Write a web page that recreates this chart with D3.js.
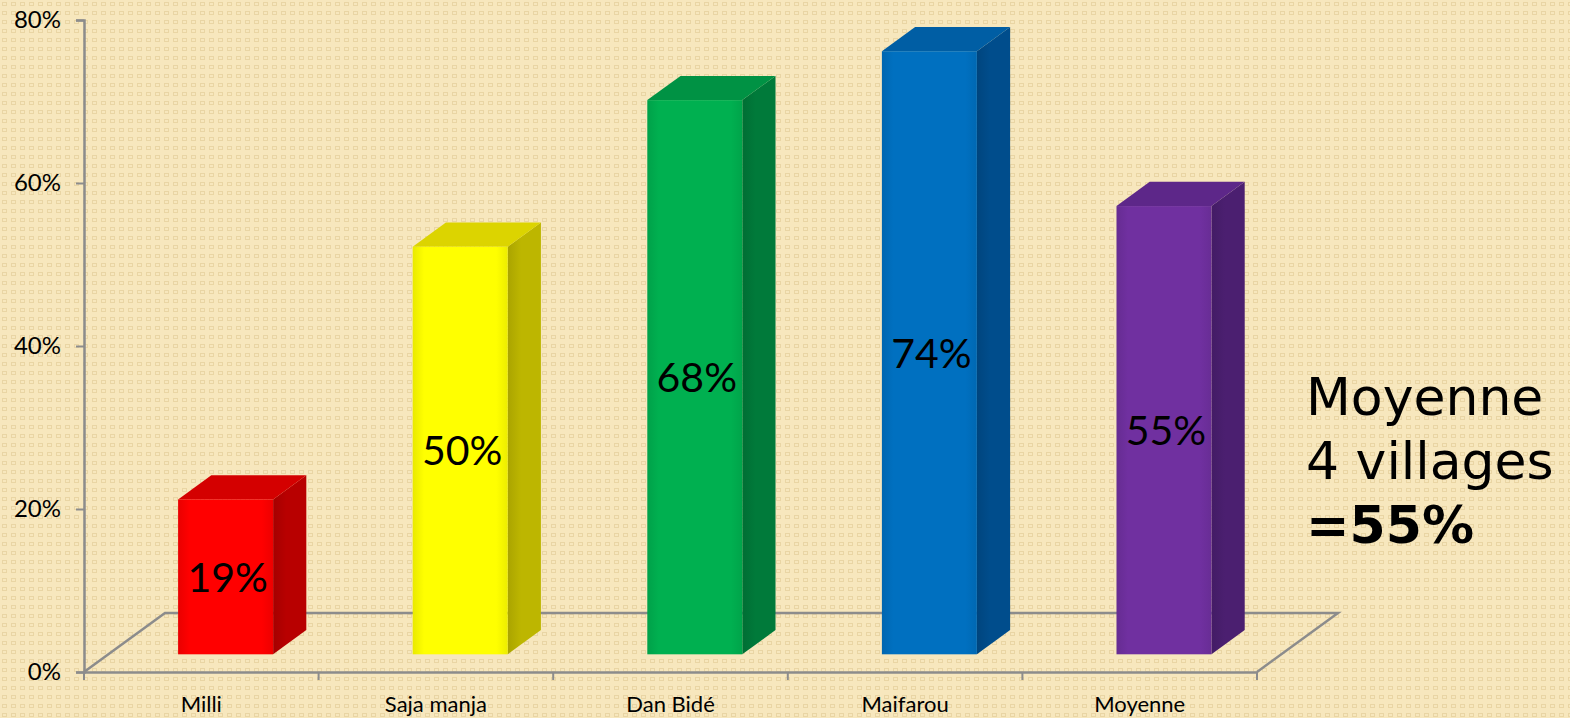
<!DOCTYPE html>
<html>
<head>
<meta charset="utf-8">
<script src="https://cdn.jsdelivr.net/npm/d3@7"></script>
<style>
  html, body { margin: 0; padding: 0; background: #f6e5ba; }
  svg { display: block; }
</style>
</head>
<body>
<div id="chart"></div>
<script>
// data
const categories = ["Milli", "Saja manja", "Dan Bidé", "Maifarou", "Moyenne"]
const values = [0.19, 0.50, 0.68, 0.74, 0.55]
const valueLabels = ["19%", "50%", "68%", "74%", "55%"]
const yTicks = [0, 0.2, 0.4, 0.6, 0.8]
const frontColors = ["#ff0000", "#ffff00", "#00b050", "#0070c0", "#7030a0"]
const sideColors = ["#b80000", "#bdb600", "#007a3a", "#004d8c", "#4b1f70"]
const topColors = ["#d40000", "#dcd400", "#009244", "#005ea4", "#5d2789"]
const noteLines = ["Moyenne", "4 villages"]
const noteBold = "=55%"

const width = 1570, height = 718
const svg = d3.select("#chart").append("svg")
              .attr("width", width)
              .attr("height", height)

// background pattern
const defs = svg.append("defs")
const pat = defs.append("pattern")
                .attr("id", "bg")
                .attr("width", 9)
                .attr("height", 9)
                .attr("patternUnits", "userSpaceOnUse")
pat.append("rect").attr("width", 9).attr("height", 9).attr("fill", "#f7e7bd")
pat.append("rect").attr("x", 2.5).attr("y", 2.5).attr("width", 4).attr("height", 3)
   .attr("fill", "none").attr("stroke", "#e9d5a4").attr("stroke-width", 1)
svg.append("rect").attr("width", width).attr("height", height).attr("fill", "url(#bg)")

// gradients for faces
frontColors.forEach((c, i) => {
    const g = defs.append("linearGradient").attr("id", "front" + i)
                  .attr("x1", 0).attr("x2", 1).attr("y1", 0).attr("y2", 0)
    g.append("stop").attr("offset", "0%").attr("stop-color", d3.color(c).darker(0.25))
    g.append("stop").attr("offset", "12%").attr("stop-color", c)
    g.append("stop").attr("offset", "88%").attr("stop-color", c)
    g.append("stop").attr("offset", "100%").attr("stop-color", d3.color(c).darker(0.2))
    const s = defs.append("linearGradient").attr("id", "side" + i)
                  .attr("x1", 0).attr("x2", 1).attr("y1", 0).attr("y2", 0)
    s.append("stop").attr("offset", "0%").attr("stop-color", d3.color(sideColors[i]).darker(0.3))
    s.append("stop").attr("offset", "40%").attr("stop-color", sideColors[i])
    s.append("stop").attr("offset", "100%").attr("stop-color", sideColors[i])
})

// scales
const x0 = 84, x1 = 1257
const yBase = 672
const depth = {dx: 81, dy: -59}
const xScale = d3.scaleBand()
                 .domain(categories)
                 .range([x0, x1])
                 .padding(0)
const yScale = d3.scaleLinear()
                 .domain([0, 0.8])
                 .range([yBase, 20])
const barWidth = xScale.bandwidth() * 0.405
const f0 = 0.3, f1 = 0.71
const off = {dx: depth.dx * (f1 - f0), dy: depth.dy * (f1 - f0)}

const axisColor = "#8c8c8c"

// floor
const floor = svg.append("g")
floor.append("path")
     .attr("d", `M${x0},${yBase} L${x0 + depth.dx},${yBase + depth.dy} L${x1 + depth.dx},${yBase + depth.dy} L${x1},${yBase}`)
     .attr("fill", "none")
     .attr("stroke", axisColor)
     .attr("stroke-width", 2.5)

// y axis
const yAxis = d3.axisLeft(yScale)
                .tickValues(yTicks)
                .tickFormat(d3.format(".0%"))
                .tickSize(8)
                .tickPadding(15)
const gy = svg.append("g")
              .attr("transform", `translate(${x0}, 0)`)
              .call(yAxis)
gy.select(".domain").attr("stroke", axisColor).attr("stroke-width", 2.5)
gy.selectAll(".tick line").attr("stroke", axisColor).attr("stroke-width", 2)
gy.selectAll(".tick text")
  .attr("font-family", "Lato, 'Open Sans', sans-serif")
  .attr("font-size", "24px")
  .attr("fill", "#000")

// x axis
const xAxis = d3.axisBottom(xScale).tickSize(0).tickPadding(24)
const gx = svg.append("g")
              .attr("transform", `translate(0, ${yBase})`)
              .call(xAxis)
gx.select(".domain").attr("stroke", axisColor).attr("stroke-width", 2.5)
gx.selectAll(".tick text")
  .attr("font-family", "Lato, 'Open Sans', sans-serif")
  .attr("font-size", "22px")
  .attr("fill", "#000")
gx.selectAll(".bound")
  .data(categories.map(c => xScale(c)).concat([x1]))
  .join("line")
  .attr("class", "bound")
  .attr("x1", d => d).attr("x2", d => d)
  .attr("y1", 0).attr("y2", 8)
  .attr("stroke", axisColor).attr("stroke-width", 2)

// bars
const bars = svg.append("g")
                .selectAll(".bar")
                .data(categories.map((c, i) => ({name: c, value: values[i], label: valueLabels[i], i: i})))
                .join("g")
                .attr("class", "bar")
bars.each(function (d) {
    const g = d3.select(this)
    const cx = xScale(d.name) + xScale.bandwidth() / 2 + depth.dx * f0
    const left = cx - barWidth / 2
    const right = cx + barWidth / 2
    const bottom = yBase + depth.dy * f0
    const top = bottom - (yBase - yScale(d.value))
    // side
    g.append("path")
     .attr("d", `M${right},${bottom} L${right + off.dx},${bottom + off.dy} L${right + off.dx},${top + off.dy} L${right},${top} Z`)
     .attr("fill", `url(#side${d.i})`)
    // top
    g.append("path")
     .attr("d", `M${left},${top} L${left + off.dx},${top + off.dy} L${right + off.dx},${top + off.dy} L${right},${top} Z`)
     .attr("fill", topColors[d.i])
    // front
    g.append("rect")
     .attr("x", left)
     .attr("y", top)
     .attr("width", barWidth)
     .attr("height", bottom - top)
     .attr("fill", `url(#front${d.i})`)
    g.append("text")
     .text(d.label)
     .attr("x", cx + 2)
     .attr("y", (top + bottom) / 2)
     .attr("dy", "0.36em")
     .attr("text-anchor", "middle")
     .attr("font-family", "Lato, 'Open Sans', sans-serif")
     .attr("font-size", "41px")
     .attr("fill", "#000")
})

// note
const note = svg.append("text")
                .attr("font-family", "'DejaVu Sans', Verdana, sans-serif")
                .attr("font-size", "52px")
                .attr("fill", "#000")
noteLines.forEach((t, i) => {
    note.append("tspan").attr("x", 1306).attr("y", 415 + i * 64).text(t)
})
note.append("tspan").attr("x", 1306).attr("y", 543)
    .attr("font-weight", "bold").text(noteBold)
</script>
</body>
</html>
